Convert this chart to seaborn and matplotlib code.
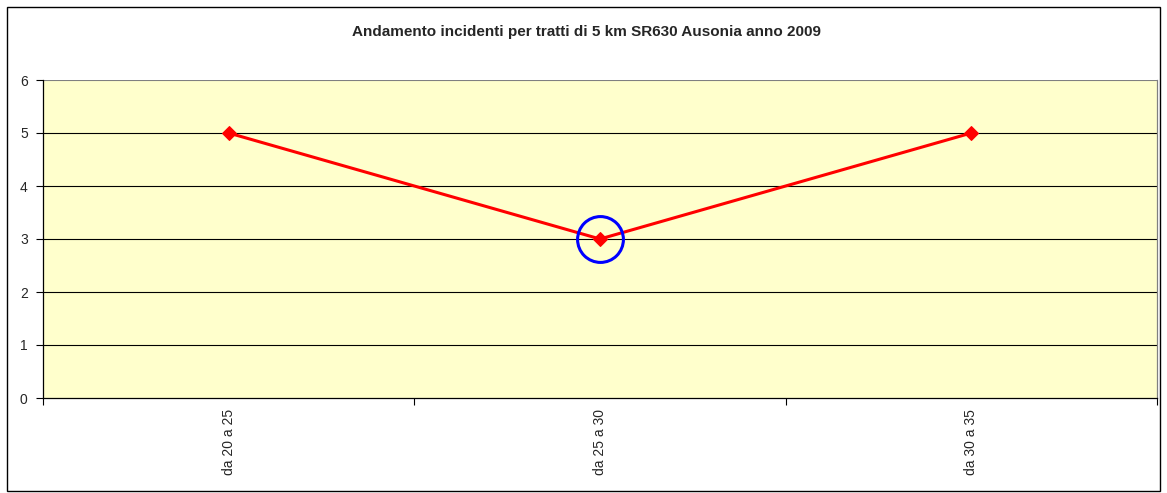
import matplotlib
matplotlib.use("Agg")
import matplotlib.pyplot as plt
import seaborn as sns
import pandas as pd
from matplotlib.patches import Rectangle

tratti = ["da 20 a 25", "da 25 a 30", "da 30 a 35"]
incidenti = [5, 3, 5]
evidenziato = "da 25 a 30"

sns.set_style("white")
plt.rcParams['font.family'] = ['Liberation Sans', 'DejaVu Sans']

df = pd.DataFrame({"tratto": tratti, "incidenti": incidenti})

fig = plt.figure(figsize=(11.67, 4.93), dpi=100)
ax = fig.add_axes([43 / 1167, 1 - 398 / 493, 1114 / 1167, 318 / 493])
ax.set_facecolor("#FFFFCC")

sns.lineplot(data=df, x="tratto", y="incidenti", ax=ax, color="red",
             linewidth=2.2, marker="D", markersize=7, markeredgecolor="red",
             sort=False, zorder=3)

# blue circle around the minimum
idx = tratti.index(evidenziato)
ax.plot([idx], [incidenti[idx]], marker="o", markersize=33, markerfacecolor="none",
        markeredgecolor="#0000FF", markeredgewidth=2.2, zorder=4)

ax.set_xlim(-0.5, len(tratti) - 0.5)
ax.set_ylim(0, 6)
ax.set_yticks(range(0, 7))
ax.set_xticks(range(len(tratti)))
ax.set_xticklabels(tratti, rotation=90, fontsize=10)
ax.set_xticks([i - 0.5 for i in range(len(tratti) + 1)], minor=True)
ax.tick_params(axis="x", which="major", length=0, pad=8)
ax.tick_params(axis="x", which="minor", length=5, width=0.8, color="black", direction="out")
ax.tick_params(axis="y", length=5, width=0.8, color="black", direction="out", labelsize=10, pad=6)
ax.yaxis.set_ticks_position("left")
ax.xaxis.set_ticks_position("bottom")

for y in range(1, 6):
    ax.axhline(y, color="black", linewidth=0.8, zorder=1)
ax.axhline(6, color="#808080", linewidth=0.8, zorder=1)

ax.spines["left"].set_color("black")
ax.spines["bottom"].set_color("black")
ax.spines["left"].set_linewidth(0.9)
ax.spines["bottom"].set_linewidth(0.9)
ax.spines["top"].set_visible(False)
ax.spines["right"].set_color("#808080")
ax.spines["right"].set_linewidth(0.9)

ax.set_xlabel("")
ax.set_ylabel("")

fig.text(587 / 1167, 1 - 32 / 493, "Andamento incidenti per tratti di 5 km SR630 Ausonia anno 2009",
         ha="center", va="center", fontsize=11, fontweight="bold")

fig.patches.append(Rectangle((7 / 1167, 2 / 493), 1153 / 1167, 484 / 493,
                             transform=fig.transFigure, fill=False,
                             edgecolor="black", linewidth=1))

fig.savefig("out.png", dpi=100)
